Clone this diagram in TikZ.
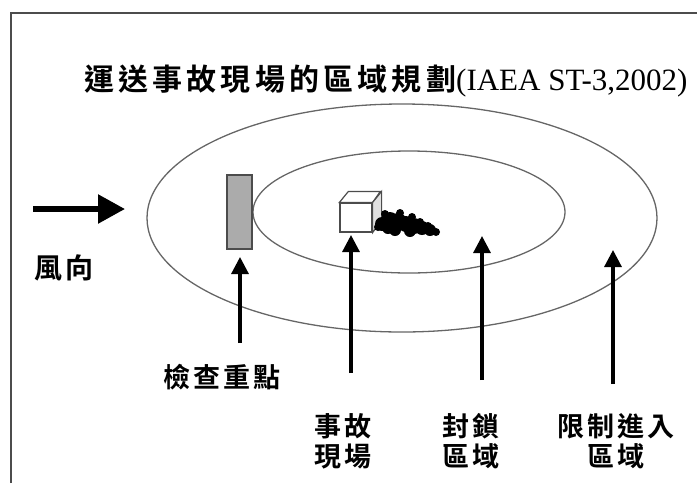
\documentclass[tikz,border=0pt]{standalone}
\usepackage{fontspec}
\setmainfont{Liberation Serif}
\newfontfamily\cjk{Noto Sans CJK TC Bold}
\usetikzlibrary{arrows.meta}

\tikzset{
  zone/.style={draw=black!60, line width=1.3pt},
  uparrow/.style={-{Triangle[length=17pt,width=17pt]}, line width=3.2pt},
  windarrow/.style={-{Triangle[length=27pt,width=28pt]}, line width=5.5pt},
  lbl/.style={font=\cjk\fontsize{27}{30}\selectfont\addfontfeature{LetterSpace=10},
    align=center, inner sep=0pt},
}

\begin{document}
\begin{tikzpicture}[x=1pt,y=-1pt]
  \useasboundingbox (0,0) rectangle (697,483);
  \draw[line width=2.6pt, black!70] (11,483) -- (11,13) -- (697,13);

  \node[anchor=west, inner sep=0pt] (title) at (84,81)
    {{\cjk\fontsize{30}{32}\selectfont\addfontfeature{LetterSpace=14}運送事故現場的區域規劃}%
     {\fontsize{31}{32}\selectfont(IAEA ST-3,2002)}};

  % zones
  \draw[zone] (402,218) ellipse [x radius=255, y radius=114];
  \draw[zone] (409,212) ellipse [x radius=156, y radius=61];

  % check point
  \node[draw=black!70, line width=1.2pt, fill=black!33, minimum width=25pt,
        minimum height=74pt, inner sep=0pt] (gate) at (239.5,212) {};

  % package
  \node[draw=black!70, line width=1.2pt, fill=white, minimum width=32pt,
        minimum height=29pt, inner sep=0pt] (cargo) at (356,217.5) {};
  \draw[black!70, line width=1.2pt, fill=white]
    (cargo.north west) -- ++(9,-11) -- ++(32,0) -- (cargo.north east) -- cycle;
  \draw[black!70, line width=1.2pt, fill=black!12]
    (cargo.north east) -- ++(9,-11) -- ++(0,29) -- (cargo.south east) -- cycle;

  % smoke
  \foreach \x/\y/\r in {382/224/7, 390/220/8, 398/222/9, 406/224/8, 414/226/8,
      422/228/7, 430/230/6, 436/232/4, 395/230/6, 410/231/6, 388/228/6,
      385/214/4, 400/213/4, 412/217/4, 378/227/4, 420/222/4, 428/226/4}
    \fill[black] (\x,\y) circle (\r);

  % wind
  \coordinate (windtail) at (33,209);
  \coordinate (windhead) at (125,209);
  \draw[windarrow] (windtail) -- (windhead);
  \node[lbl, font=\cjk\fontsize{28}{30}\selectfont\addfontfeature{LetterSpace=10}]
    (wind) at (64,268) {風向};

  % labels
  \node[lbl] (checklbl) at (222,377) {檢查重點};
  \node[lbl] (scenelbl) at (343,441.5) {事故\\現場};
  \node[lbl] (cordonlbl) at (471,441.5) {封鎖\\區域};
  \node[lbl] (restrictlbl) at (616,441.5) {限制進入\\區域};

  \coordinate (checktail) at (240,343);    \coordinate (checktip) at (240,257);
  \coordinate (scenetail) at (351,373);    \coordinate (scenetip) at (351,235);
  \coordinate (cordontail) at (482,380);   \coordinate (cordontip) at (482,236);
  \coordinate (restricttail) at (613,384); \coordinate (restricttip) at (613,250);

  \draw[uparrow] (checktail) -- (checktip);
  \draw[uparrow] (scenetail) -- (scenetip);
  \draw[uparrow] (cordontail) -- (cordontip);
  \draw[uparrow] (restricttail) -- (restricttip);
\end{tikzpicture}
\end{document}
